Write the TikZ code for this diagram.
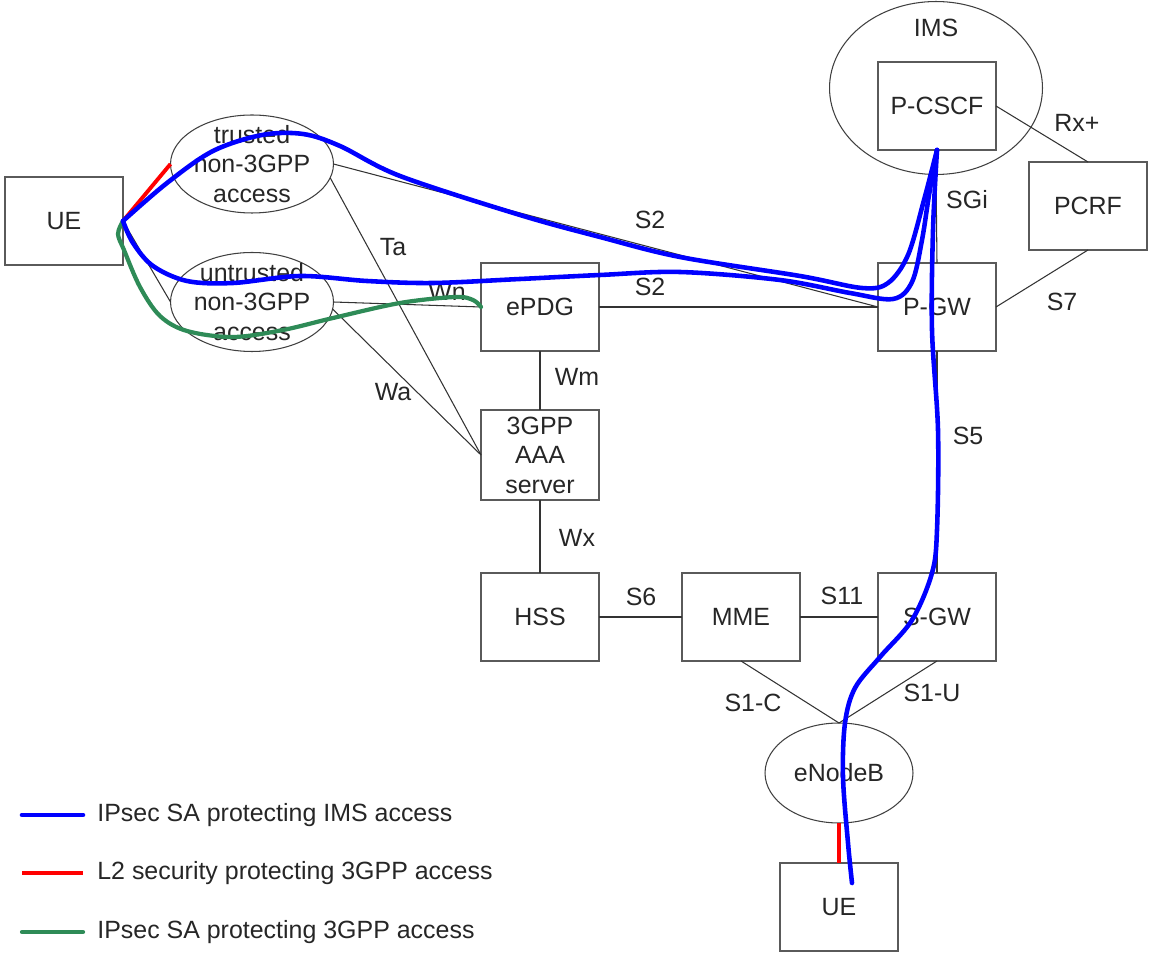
\documentclass[tikz,border=0pt]{standalone}
\usepackage{fontspec}
\setmainfont{Liberation Sans}
\usetikzlibrary{shapes.geometric}
\definecolor{sa-blue}{HTML}{0000FF}
\definecolor{l2-red}{HTML}{FF0000}
\definecolor{sa-green}{HTML}{2E8B57}
\definecolor{box-gray}{HTML}{5A5A5A}

\begin{document}
\begin{tikzpicture}[x=0.02cm, y=-0.02cm,
      every node/.style={font=\fontsize{14.2}{16.8}\selectfont, text=black!85},
      nf/.style={draw=box-gray, line width=0.8pt, minimum width=2.36cm,
                 minimum height=1.76cm, inner sep=0pt, outer sep=0pt, align=center},
      acc/.style={draw=black!75, line width=0.6pt, ellipse, inner sep=0pt, outer sep=0pt},
      link/.style={draw=black!80, line width=0.6pt},
      imssa/.style={draw=sa-blue, line width=2.6pt, line cap=round, line join=round},
      l2sec/.style={draw=l2-red, line width=2.2pt},
      gwsa/.style={draw=sa-green, line width=2.4pt, line cap=round, line join=round}]
    \useasboundingbox (0,0) rectangle (1149,955);

    % network elements
    \node[nf] (ue) at (64,221) {UE};
    \node[acc, minimum width=3.26cm, minimum height=1.96cm,
          label={[align=center]center:trusted\\non-3GPP\\access}] (trusted) at (252,164) {};
    \node[acc, minimum width=3.26cm, minimum height=1.98cm,
          label={[align=center]center:untrusted\\non-3GPP\\access}] (untrusted) at (252,302) {};
    \node[nf] (epdg) at (540,307) {ePDG};
    \node[nf, minimum height=1.8cm] (aaa) at (540,455) {3GPP\\AAA\\server};
    \node[nf] (hss) at (540,617) {HSS};
    \node[nf] (mme) at (741,617) {MME};
    \node[nf] (sgw) at (937,617) {S-GW};
    \node[nf] (pgw) at (937,307) {P-GW};
    \node[acc, minimum width=4.26cm, minimum height=3.46cm] (ims) at (936,88) {};
    \node (imslbl) at (936,28) {IMS};
    \node[nf] (pcscf) at (937,106) {P-CSCF};
    \node[nf] (pcrf) at (1088,206) {PCRF};
    \node[acc, minimum width=2.96cm, minimum height=2cm] (enb) at (839,773) {eNodeB};
    \node[nf] (ue2) at (839,907) {UE};
    \coordinate (uetip) at (852,883);

    % reference points
    \draw[link] (ue.east) -- (untrusted.west);
    \draw[link] (trusted.east) -- (pgw.west);
    \draw[link] (trusted.-10) -- (aaa.west);
    \draw[link] (untrusted.east) -- (epdg.west);
    \draw[link] (untrusted.-5) -- (aaa.west);
    \draw[link] (epdg.east) -- (pgw.west);
    \draw[link] (epdg.south) -- (aaa.north);
    \draw[link] (aaa.south) -- (hss.north);
    \draw[link] (hss.east) -- (mme.west);
    \draw[link] (mme.east) -- (sgw.west);
    \draw[link] (mme.south) -- (enb.north);
    \draw[link] (sgw.south) -- (enb.north);
    \draw[link] (ims.south) -- (pgw.north);
    \draw[link] (pcscf.east) -- (pcrf.north);
    \draw[link] (pcrf.south) -- (pgw.east);
    \draw[link] (pgw.south) -- (sgw.north);

    \node (lTa) at (393,247) {Ta};
    \node (lWn) at (447,292) {Wn};
    \node (lWa) at (393,392) {Wa};
    \node (lS2a) at (650,220) {S2};
    \node (lS2b) at (650,287) {S2};
    \node (lWm) at (577,377) {Wm};
    \node (lWx) at (577,538) {Wx};
    \node (lS6) at (641,597) {S6};
    \node (lS11) at (842,596) {S11};
    \node (lS1C) at (753,703) {S1-C};
    \node (lS1U) at (932,693) {S1-U};
    \node (lSGi) at (967,200) {SGi};
    \node (lRx) at (1077,123) {Rx+};
    \node (lS7) at (1062,302) {S7};
    \node (lS5) at (968,436) {S5};

    % security associations
    \draw[l2sec] (ue.east) -- (trusted.west);
    \draw[l2sec] (enb.south) -- (ue2.north);
    \draw[gwsa] plot[smooth, tension=0.55] coordinates {(ue.east) (118,234) (124,250)
      (140,287) (160,316) (187,331) (233,337) (283,330) (333,318) (400,303)
      (455,297) (473,300) (epdg.west)};
    \draw[imssa] plot[smooth, tension=0.55] coordinates {(ue.east) (167,183) (213,151)
      (262,135) (303,134) (340,146) (400,176) (520,215) (600,237) (680,257)
      (800,276) (862,288) (888,283) (908,255) (924,200) (pcscf.south)};
    \draw[imssa] plot[smooth, tension=0.55] coordinates {(ue.east) (133,243) (153,266)
      (187,281) (233,283) (300,276) (367,281) (433,283) (520,279) (600,275)
      (680,272) (780,280) (850,293) (893,299) (912,282) (922,240) (929,195)
      (pcscf.south)};
    \draw[imssa] plot[smooth, tension=0.55] coordinates {(pcscf.south) (933,230)
      (932,330) (938,430) (937,530) (932,573) (912,620) (880,657) (855,688)
      (845,723) (843,777) (848,843) (uetip)};

    % legend
    \node[anchor=west, inner sep=0pt] (key1) at (97,815) {IPsec SA protecting IMS access};
    \node[anchor=west, inner sep=0pt] (key2) at (97,873) {L2 security protecting 3GPP access};
    \node[anchor=west, inner sep=0pt] (key3) at (97,932) {IPsec SA protecting 3GPP access};
    \draw[imssa] ([xshift=-1.5cm]key1.west) -- ([xshift=-0.28cm]key1.west);
    \draw[l2sec] ([xshift=-1.5cm]key2.west) -- ([xshift=-0.28cm]key2.west);
    \draw[gwsa] ([xshift=-1.5cm]key3.west) -- ([xshift=-0.28cm]key3.west);
  \end{tikzpicture}
\end{document}
